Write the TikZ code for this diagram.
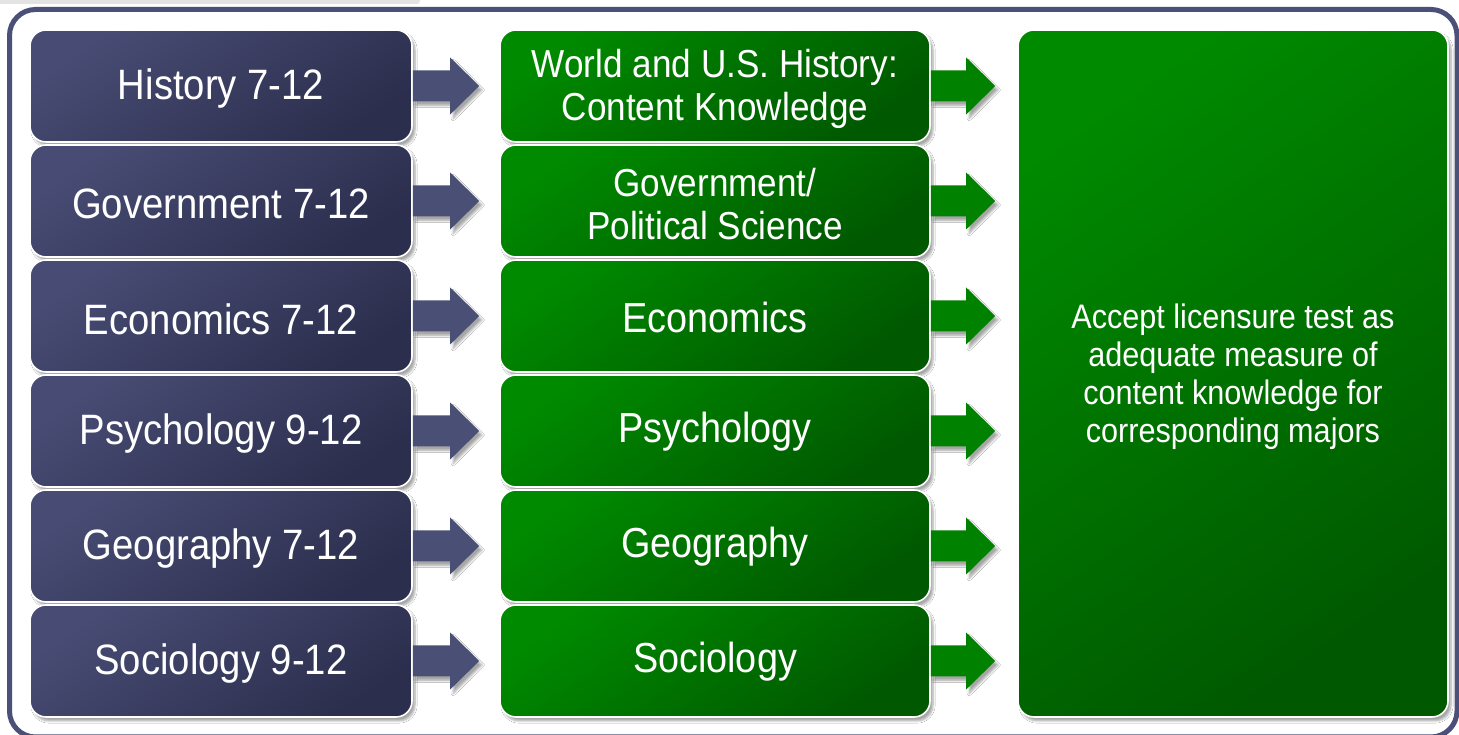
\documentclass[tikz,border=0pt]{standalone}
\usepackage{fontspec}
\setmainfont{Liberation Sans}[FakeStretch=0.9]
\usetikzlibrary{calc,shadows,shadows.blur}
\definecolor{frameblue}{HTML}{4B5078}
\definecolor{bluelight}{HTML}{484C74}
\definecolor{bluedark}{HTML}{2B2E4C}
\definecolor{bluearrow}{HTML}{4A4F76}
\definecolor{greenlight}{HTML}{008A00}
\definecolor{greendark}{HTML}{005800}
\definecolor{greenarrow}{HTML}{008200}
\tikzset{
  box/.style={rounded corners=16pt, draw=white, line width=1.6pt,
    inner sep=0pt, minimum height=112pt,
    blur shadow={shadow xshift=3pt, shadow yshift=-4pt, shadow opacity=35, shadow blur steps=6}},
  bluebox/.style={box, minimum width=382pt, top color=bluelight, bottom color=bluedark,
    shading angle=35},
  greenbox/.style={box, minimum width=430pt, top color=greenlight, bottom color=greendark,
    shading angle=35},
  bigbox/.style={box, minimum width=430pt, minimum height=687pt, top color=greenlight,
    bottom color=greendark, shading angle=35},
  lbl/.style={text=white, align=center, inner sep=0pt, yshift=-3pt, font=\fontsize{42.5}{43}\selectfont},
  lbltwo/.style={lbl, font=\fontsize{39}{43}\selectfont},
  lblone/.style={lbl, yshift=2pt, font=\fontsize{42}{43}\selectfont},
  lblright/.style={lbl, font=\fontsize{34}{38}\selectfont},
  arrowfill/.style={fill=#1, blur shadow={shadow xshift=3pt, shadow yshift=-4pt, shadow opacity=35, shadow blur steps=6}}
}
\newcommand\blkarrow[4]{% from, to, color, tip gap
  \path[arrowfill=#3]
    ($(#1.east)+(0,15.5)$) -- ($(#2.west |- #1.east)+(-#4-29,15.5)$)
    -- ($(#2.west |- #1.east)+(-#4-29,28.5)$) -- ($(#2.west |- #1.east)+(-#4,0)$)
    -- ($(#2.west |- #1.east)+(-#4-29,-28.5)$) -- ($(#2.west |- #1.east)+(-#4-29,-15.5)$)
    -- ($(#1.east)+(0,-15.5)$) -- cycle;}
\begin{document}
\begin{tikzpicture}[x=1pt,y=1pt]
\useasboundingbox (0,0) rectangle (1459,735);
\fill[white] (0,0) rectangle (1459,735);
% remnant strip at the top left
\fill[gray!22, rounded corners=3pt] (-10,731) rectangle (420,750);
% outer frame
\draw[frameblue, line width=5pt, rounded corners=26pt] (9.5,-2) rectangle (1457,725.5);
% left column
\node[bluebox, label={[lbl]center:History 7-12}] (b1) at (221,649) {};
\node[bluebox, label={[lbl]center:Government 7-12}] (b2) at (221,534) {};
\node[bluebox, label={[lbl]center:Economics 7-12}] (b3) at (221,419) {};
\node[bluebox, label={[lbl]center:Psychology 9-12}] (b4) at (221,304) {};
\node[bluebox, label={[lbl]center:Geography 7-12}] (b5) at (221,189) {};
\node[bluebox, label={[lbl]center:Sociology 9-12}] (b6) at (221,74) {};
% middle column
\node[greenbox, label={[lbltwo]center:{World and U.S. History:\\Content Knowledge}}] (g1) at (715,649) {};
\node[greenbox, label={[lbltwo]center:{Government/\\Political Science}}] (g2) at (715,534) {};
\node[greenbox, label={[lblone]center:Economics}] (g3) at (715,419) {};
\node[greenbox, label={[lblone]center:Psychology}] (g4) at (715,304) {};
\node[greenbox, label={[lblone]center:Geography}] (g5) at (715,189) {};
\node[greenbox, label={[lblone]center:Sociology}] (g6) at (715,74) {};
% right box
\node[bigbox, label={[lblright]center:{Accept licensure test as\\adequate measure of\\content knowledge for\\corresponding majors}}] (r) at (1233,361.5) {};
% arrows
\foreach \i in {1,...,6}{
  \blkarrow{b\i}{g\i}{bluearrow}{20}
  \blkarrow{g\i}{r}{greenarrow}{22}
}
\end{tikzpicture}
\end{document}
